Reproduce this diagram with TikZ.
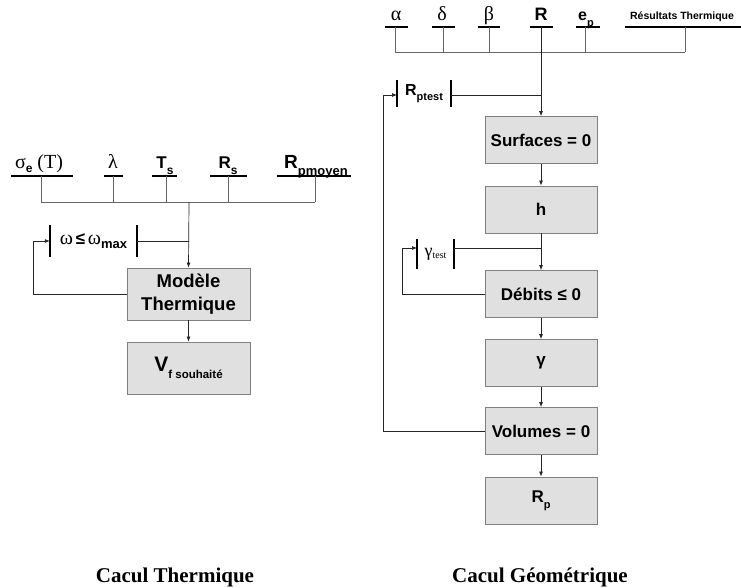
\documentclass[tikz,border=0pt]{standalone}
\usepackage{fontspec}
\setmainfont{Liberation Sans}
\newfontfamily\tms{Liberation Serif}
\usetikzlibrary{arrows.meta}
\newcommand{\mysub}[2]{\raisebox{-0.35em}{\fontsize{#1}{#1}\selectfont\bfseries #2}}
\begin{document}
\begin{tikzpicture}[x=1pt,y=-1pt,
  box/.style={draw=black!50,line width=0.8pt,fill=black!12,inner sep=0pt,align=center},
  lbox/.style={box,minimum width=123pt,minimum height=52pt},
  rbox/.style={box,minimum width=112pt,minimum height=47pt,font=\bfseries\fontsize{17}{17}\selectfont},
  conn/.style={draw=black!85,line width=0.7pt},
  arr/.style={conn,-{Latex[length=5pt,width=4pt]}},
  uline/.style={draw=black,line width=1.6pt},
  bar/.style={draw=black,line width=1.6pt},
  lab/.style={anchor=base,inner sep=0pt},
  captxt/.style={anchor=base,inner sep=0pt,font=\tms\bfseries\fontsize{21}{21}\selectfont}
]
\useasboundingbox (0,0) rectangle (741,588);

% ================= LEFT: Calcul Thermique =================
\node[lab] (sig) at (39,169) {{\tms\fontsize{20}{20}\selectfont σ}\mysub{12}{e}{\tms\fontsize{20}{20}\selectfont\ (T)}};
\node[lab] (lam) at (113,169) {\tms\fontsize{20}{20}\selectfont λ};
\node[lab] (ts) at (165,169) {\bfseries\fontsize{17}{17}\selectfont T\mysub{12}{s}};
\node[lab] (rs) at (228,169) {\bfseries\fontsize{17}{17}\selectfont R\mysub{12}{s}};
\node[lab] (rpm) at (316,169) {\bfseries\fontsize{19}{19}\selectfont R\mysub{13}{pmoyen}};
\coordinate (u1a) at (11,176);  \coordinate (u1b) at (73,176);
\coordinate (u2a) at (104,176); \coordinate (u2b) at (123,176);
\coordinate (u3a) at (152,176); \coordinate (u3b) at (177,176);
\coordinate (u4a) at (210,176); \coordinate (u4b) at (247,176);
\coordinate (u5a) at (277,176); \coordinate (u5b) at (351,176);
\foreach \i in {1,...,5} {\draw[uline] (u\i a) -- (u\i b);}
\coordinate (t1) at (41,176);  \coordinate (b1) at (41,202);
\coordinate (t2) at (113,176); \coordinate (b2) at (113,202);
\coordinate (t3) at (166,176); \coordinate (b3) at (166,202);
\coordinate (t4) at (228,176); \coordinate (b4) at (228,202);
\coordinate (t5) at (315,176); \coordinate (b5) at (315,202);
\foreach \i in {1,...,5} {\draw[conn,draw=black!60] (t\i) -- (b\i);}
\draw[conn,draw=black!60] (b1) -- (b5);
\coordinate (ltrunk) at (189,202);

\node[lbox,font=\bfseries\fontsize{18.5}{23}\selectfont] (mt) at (188.5,294) {Modèle\\Thermique};
\node[lbox,font=\bfseries\fontsize{21}{21}\selectfont] (vf) at (188.5,368) {V\mysub{11.5}{f souhaité}};

\node[inner sep=0pt,minimum width=87pt,minimum height=32pt] (om) at (93.5,241)
  {{\tms\fontsize{20}{20}\selectfont ω} {\bfseries\fontsize{17}{17}\selectfont ≤} {\tms\fontsize{20}{20}\selectfont ω}\mysub{13}{max}};
\draw[bar] (om.north west) -- (om.south west);
\draw[bar] (om.north east) -- (om.south east);
\coordinate (omj) at (189,241);
\coordinate (ol1) at (33,294);
\coordinate (ol2) at (33,241);

\draw[arr] (ltrunk) -- (mt.north);
\draw[conn] (om.east) -- (omj);
\draw[arr] (mt.west) -- (ol1) -- (ol2) -- (om.west);
\draw[arr] (mt.south) -- (vf.north);

\node[captxt] (capL) at (175,582) {Cacul Thermique};

% ================= RIGHT: Calcul Geometrique =================
\node[lab] (al) at (396,21) {\tms\fontsize{20}{20}\selectfont α};
\node[lab] (de) at (442,21) {\tms\fontsize{20}{20}\selectfont δ};
\node[lab] (be) at (489,21) {\tms\fontsize{20}{20}\selectfont β};
\node[lab] (rr) at (541,21) {\bfseries\fontsize{18}{18}\selectfont R};
\node[lab] (ep) at (586,21) {\bfseries\fontsize{16}{16}\selectfont e\mysub{11}{p}};
\node[lab] (res) at (682,20) {\bfseries\fontsize{10.5}{10.5}\selectfont Résultats Thermique};
\coordinate (v1a) at (385,27); \coordinate (v1b) at (408,27);
\coordinate (v2a) at (432,27); \coordinate (v2b) at (455,27);
\coordinate (v3a) at (478,27); \coordinate (v3b) at (500,27);
\coordinate (v4a) at (530,27); \coordinate (v4b) at (553,27);
\coordinate (v5a) at (576,27); \coordinate (v5b) at (600,27);
\coordinate (v6a) at (625,27); \coordinate (v6b) at (741,27);
\foreach \i in {1,...,6} {\draw[uline] (v\i a) -- (v\i b);}
\coordinate (s1) at (395,27); \coordinate (c1) at (395,52);
\coordinate (s2) at (443,27); \coordinate (c2) at (443,52);
\coordinate (s3) at (489,27); \coordinate (c3) at (489,52);
\coordinate (s5) at (585,27); \coordinate (c5) at (585,52);
\coordinate (s6) at (685,27); \coordinate (c6) at (685,52);
\foreach \i in {1,2,3,5,6} {\draw[conn,draw=black!60] (s\i) -- (c\i);}
\draw[conn,draw=black!60] (c1) -- (c6);
\coordinate (rtop) at (541,27);

\node[rbox] (surf) at (541,140)   {Surfaces = 0};
\node[rbox] (hb)   at (541,209.5) {h};
\node[rbox] (deb)  at (541,294)   {Débits ≤ 0};
\node[rbox] (gam)  at (541,363)   {γ};
\node[rbox] (vol)  at (541,431)   {Volumes = 0};
\node[rbox] (rp)   at (541,500.5) {R\mysub{11}{p}};

\node[inner sep=0pt,minimum width=54pt,minimum height=27pt] (rpt) at (424,93.5)
  {\bfseries\fontsize{16}{16}\selectfont R\mysub{11}{ptest}};
\draw[bar] (rpt.north west) -- (rpt.south west);
\draw[bar] (rpt.north east) -- (rpt.south east);
\coordinate (rptj) at (541,95);
\coordinate (rpti) at (397,95);
\coordinate (rpto) at (451,95);

\node[inner sep=0pt,minimum width=37pt,minimum height=30pt] (gt) at (435.5,254)
  {{\tms\fontsize{18}{18}\selectfont γ}\raisebox{-0.25em}{\tms\fontsize{10}{10}\selectfont test}};
\draw[bar] (gt.north west) -- (gt.south west);
\draw[bar] (gt.north east) -- (gt.south east);
\coordinate (gti) at (417,248);
\coordinate (gto) at (454,248);
\coordinate (gtj) at (541,248);

\draw[arr] (rtop) -- (surf.north);
\draw[conn] (rpto) -- (rptj);
\draw[arr] (surf.south) -- (hb.north);
\draw[arr] (hb.south) -- (deb.north);
\draw[conn] (gto) -- (gtj);
\draw[arr] (deb.south) -- (gam.north);
\draw[arr] (gam.south) -- (vol.north);
\draw[arr] (vol.south) -- (rp.north);

\coordinate (gl1) at (402,294);
\coordinate (gl2) at (402,248);
\draw[arr] (deb.west) -- (gl1) -- (gl2) -- (gti);

\coordinate (vl1) at (383,431);
\coordinate (vl2) at (383,95);
\draw[arr] (vol.west) -- (vl1) -- (vl2) -- (rpti);

\node[captxt] (capR) at (540,582) {Cacul Géométrique};
\end{tikzpicture}
\end{document}
